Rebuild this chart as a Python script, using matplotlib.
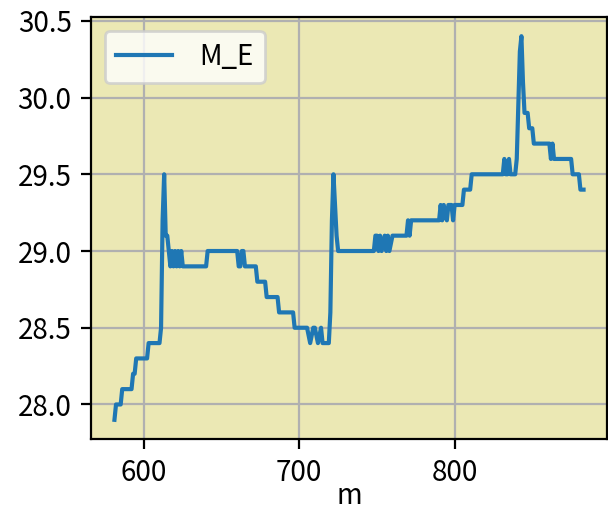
import matplotlib
matplotlib.use("Agg")
import matplotlib.pyplot as plt

plt.rcParams['font.family'] = ['Noto Sans CJK SC', 'DejaVu Sans']

# m values (x) and M_E values
m = [581, 582, 585, 586, 592, 593, 594, 595, 602, 603,
     610, 611, 612, 613, 614, 615, 616, 617, 618, 619,
     620, 621, 622, 623, 624, 625, 640, 641, 660, 661,
     662, 663, 664, 665, 672, 673, 678, 679, 686, 687,
     696, 697, 705, 707, 709, 710, 712, 714, 715, 719,
     720, 721, 722, 723, 724, 725, 748, 749, 750, 751,
     752, 753, 755, 756, 757, 758, 760, 769, 770, 771,
     772, 790, 791, 792, 793, 795, 796, 798, 799, 800,
     805, 806, 810, 811, 831, 832, 833, 834, 835, 836,
     839, 840, 842, 843, 844, 845, 847, 848, 850, 851,
     861, 862, 863, 864, 875, 876, 880, 881, 883]

M_E = [27.9, 28.0, 28.0, 28.1, 28.1, 28.2, 28.2, 28.3, 28.3, 28.4,
       28.4, 28.5, 29.2, 29.5, 29.1, 29.1, 29.0, 28.9, 29.0, 28.9,
       29.0, 28.9, 29.0, 28.9, 29.0, 28.9, 28.9, 29.0, 29.0, 28.9,
       28.9, 29.0, 29.0, 28.9, 28.9, 28.8, 28.8, 28.7, 28.7, 28.6,
       28.6, 28.5, 28.5, 28.4, 28.5, 28.5, 28.4, 28.5, 28.4, 28.4,
       28.6, 29.2, 29.5, 29.3, 29.1, 29.0, 29.0, 29.1, 29.1, 29.0,
       29.1, 29.0, 29.1, 29.0, 29.1, 29.0, 29.1, 29.1, 29.2, 29.1,
       29.2, 29.2, 29.3, 29.2, 29.3, 29.2, 29.3, 29.3, 29.2, 29.3,
       29.3, 29.4, 29.4, 29.5, 29.5, 29.6, 29.5, 29.5, 29.6, 29.5,
       29.5, 29.6, 30.3, 30.4, 30.1, 29.9, 29.9, 29.8, 29.8, 29.7,
       29.7, 29.6, 29.7, 29.6, 29.6, 29.5, 29.5, 29.4, 29.4]

fig = plt.figure(figsize=(6.08 / 2, 5.19 / 2), dpi=200)
ax = fig.add_axes([91 / 608, 80 / 519, 516 / 608, 422 / 519])
ax.set_facecolor('#ebe8b4')

ax.plot(m, M_E, color='#1f77b4', lw=1.5, label='M_E')
ax.grid(True, color='#b0b0b0', lw=0.8)
ax.set_axisbelow(True)

ax.set_xticks([600, 700, 800])
ax.set_yticks([28.0, 28.5, 29.0, 29.5, 30.0, 30.5])
ax.set_xlabel('m', labelpad=-2.5)
ax.legend(loc='upper left', handletextpad=1.0)

fig.savefig('out.png', dpi=200)
